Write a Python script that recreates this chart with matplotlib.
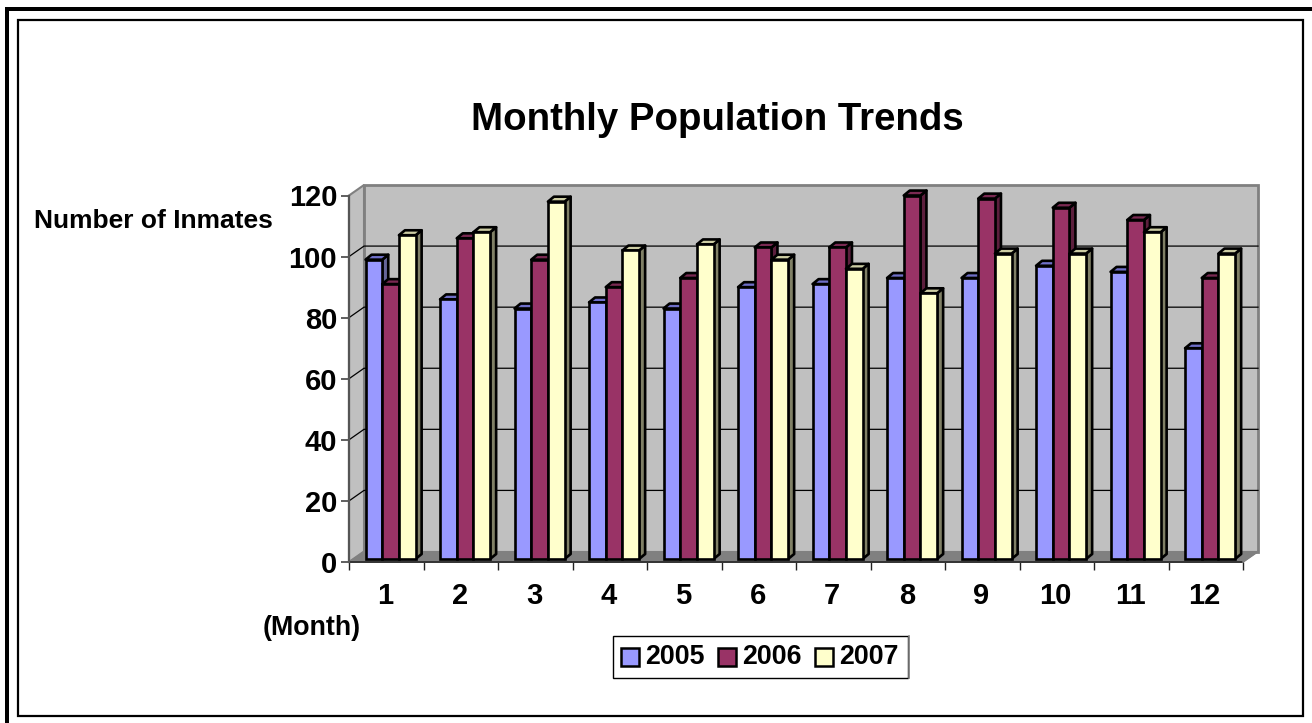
import numpy as np
import matplotlib
matplotlib.use('Agg')
import matplotlib.pyplot as plt
from matplotlib.patches import Polygon, Rectangle

plt.rcParams['font.family'] = ['Liberation Sans', 'DejaVu Sans']
plt.rcParams['font.weight'] = 'bold'

months = [1, 2, 3, 4, 5, 6, 7, 8, 9, 10, 11, 12]
years = ['2005', '2006', '2007']
pop_2005 = [98, 85, 82, 84, 82, 89, 90, 92, 92, 96, 94, 69]
pop_2006 = [90, 105, 98, 89, 92, 102, 102, 119, 118, 115, 111, 92]
pop_2007 = [106, 107, 117, 101, 103, 98, 95, 87, 100, 100, 107, 100]
yticks = [0, 20, 40, 60, 80, 100, 120]

face_cols = ['#9999FF', '#993366', '#FFFFCC']
top_cols = ['#6F6FC8', '#7A2952', '#CCCCA3']
side_cols = ['#666699', '#5C1F3D', '#808066']

W, H = 1312, 723
fig = plt.figure(figsize=(W / 100, H / 100), dpi=100)

# figure space in pixels, for the borders
bg = fig.add_axes([0, 0, 1, 1])
bg.set_xlim(0, W)
bg.set_ylim(H, 0)
bg.axis('off')
bg.add_patch(Rectangle((5, 7), 4, H - 7, fc='black', ec='none'))
bg.add_patch(Rectangle((5, 7), W - 5, 4, fc='black', ec='none'))
bg.add_patch(Rectangle((18, 20), 1284.5, 696, fill=False, ec='black', lw=1.6))

# the axes is the front plane of the fake 3d box
left, right, bottom, top = 349, 1243, 562, 195.5
ax = fig.add_axes([left / W, 1 - bottom / H, (right - left) / W, (bottom - top) / H])
ax.set_xlim(0, 12)
ax.set_ylim(0, 120)
ax.patch.set_visible(False)
for s in ax.spines.values():
    s.set_visible(False)

# depth of the box in data units
dx = 15 / ((right - left) / 12.0)
dy = 10.5 / ((bottom - top) / 120.0)

# walls
ax.add_patch(Polygon([(dx, dy), (12 + dx, dy), (12 + dx, 120 + dy), (dx, 120 + dy)],
                     fc='#C0C0C0', ec='#808080', lw=2.0, clip_on=False, zorder=1))
ax.add_patch(Polygon([(0, 0), (dx, dy), (dx, 120 + dy), (0, 120)],
                     fc='#C0C0C0', ec='#808080', lw=1.5, clip_on=False, zorder=1))
ax.add_patch(Polygon([(0, 0), (12, 0), (12 + dx, dy), (dx, dy)],
                     fc='#808080', ec='#808080', lw=0.8, clip_on=False, zorder=1))

# gridlines, back wall and left wall
for v in yticks[1:-1]:
    ax.plot([0, dx, 12 + dx], [v, v + dy, v + dy], color='black', lw=0.9, clip_on=False, zorder=2)

# bars
bar_w = 0.224
d0 = 0.29
ox = 0.4 * dx
oy = 0.47 * dy
for j, vals in enumerate([pop_2005, pop_2006, pop_2007]):
    for i, v in enumerate(vals):
        x0 = i + 0.5 + (j - 1.5) * bar_w + d0 * dx
        x1 = x0 + bar_w
        y0 = d0 * dy
        y1 = v + y0
        z = 3 + j
        ax.add_patch(Polygon([(x1, y0), (x1 + ox, y0 + oy), (x1 + ox, y1 + oy), (x1, y1)],
                             fc=side_cols[j], ec='black', lw=1.9, joinstyle='round', clip_on=False, zorder=z))
        ax.add_patch(Polygon([(x0, y1), (x1, y1), (x1 + ox, y1 + oy), (x0 + ox, y1 + oy)],
                             fc=top_cols[j], ec='black', lw=1.9, joinstyle='round', clip_on=False, zorder=z))
        ax.add_patch(Rectangle((x0, y0), bar_w, v, fc=face_cols[j], ec='black', lw=1.9, clip_on=False, zorder=z))

# axes lines and ticks
ax.plot([0, 12], [0, 0], color='#333333', lw=1.4, clip_on=False, zorder=2.5)
ax.plot([0, 0], [0, 120], color='#555555', lw=1.6, clip_on=False, zorder=2.5)
ax.plot([12, 12 + dx], [0, dy], color='#808080', lw=1.2, clip_on=False, zorder=2.5)
ax.set_yticks(yticks)
ax.set_xticks(np.arange(13))
ax.set_xticklabels([])
ax.tick_params(axis='y', length=5.5, width=1.2, color='#444444', labelsize=21, pad=3)
ax.tick_params(axis='x', length=6, width=1.0, color='#222222')
for i, m in enumerate(months):
    ax.annotate(str(m), xy=(i + 0.5, 0), xytext=(-1, -34), textcoords='offset pixels',
                ha='center', va='center', fontsize=21, annotation_clip=False)

# text
fig.text(717.5 / W, 1 - 120 / H, 'Monthly Population Trends', ha='center', va='center', fontsize=27.6)
fig.text(153 / W, 1 - 221 / H, 'Number of Inmates', ha='center', va='center', fontsize=19)
fig.text(312 / W, 1 - 628 / H, '(Month)', ha='center', va='center', fontsize=19.3)

# legend
bg.add_patch(Rectangle((612.5, 635.5), 295, 42, fc='white', ec='black', lw=1.0, zorder=5))
bg.plot([908.5, 908.5], [636, 678], color='#808080', lw=1.2, zorder=5)
for j, y in enumerate(years):
    x = 621 + j * 97
    bg.add_patch(Rectangle((x, 648), 17.5, 17.5, fc=face_cols[j], ec='black', lw=1.8, zorder=6))
    bg.text(x + 24, 657, y, ha='left', va='center', fontsize=19.3, zorder=6)

fig.savefig('out.png', dpi=100)
